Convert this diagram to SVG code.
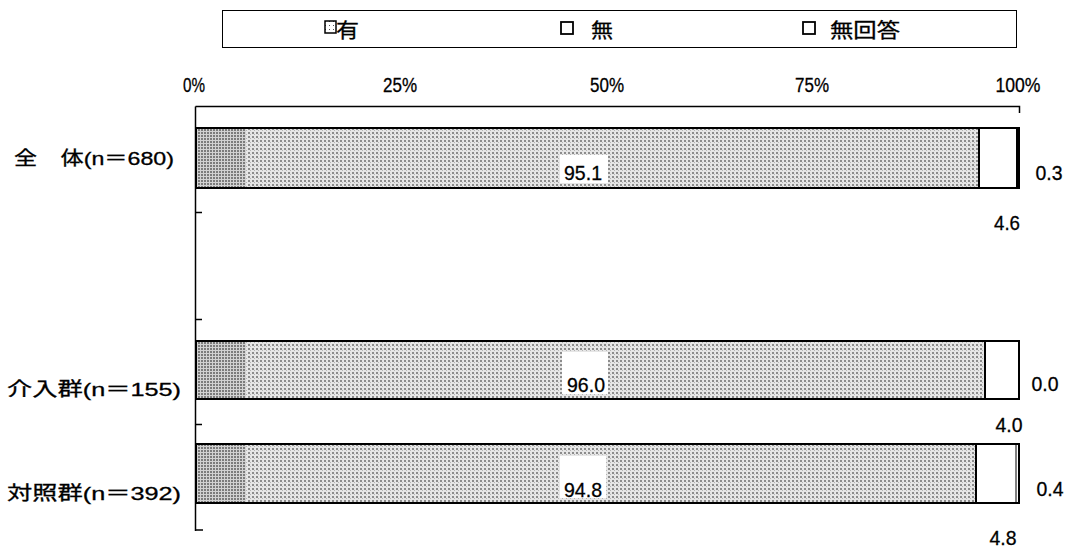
<svg xmlns="http://www.w3.org/2000/svg" width="1071" height="556" viewBox="0 0 1071 556">
<defs>
<pattern id="dots" width="4" height="4" patternUnits="userSpaceOnUse">
<rect width="4" height="4" fill="#e6e6e6"/>
<rect x="0" y="0" width="2" height="2" fill="#8c8c8c"/>
<rect x="2" y="2" width="1" height="1" fill="#b4b4b4"/>
</pattern>
<pattern id="dots2" width="3" height="3" patternUnits="userSpaceOnUse">
<rect width="3" height="3" fill="#d2d2d2"/>
<rect x="0" y="0" width="2" height="2" fill="#7c7c7c"/>
</pattern>
<pattern id="legdot" width="4" height="4" patternUnits="userSpaceOnUse">
<rect width="4" height="4" fill="#fff"/>
<rect x="1" y="1" width="1" height="1" fill="#555"/>
</pattern>
</defs>
<style>
text{font-family:"Liberation Sans","Noto Sans CJK JP",sans-serif;font-size:20px;fill:#000;stroke:#000;stroke-width:0.3}
.cat{font-size:19px}
.ax{text-anchor:middle;font-size:20px}
.val{font-size:21px;text-anchor:middle}
.line{stroke:#000;fill:none}
.seg{stroke:#000;stroke-width:2}
</style>
<rect width="1071" height="556" fill="#fff"/>
<g id="legend">
<rect x="222.5" y="10.5" width="794" height="37" class="line" stroke-width="1"/>
<rect x="325" y="21" width="11" height="12" fill="url(#legdot)" stroke="#000" stroke-width="1.5"/>
<text x="336" y="38" textLength="23" lengthAdjust="spacingAndGlyphs">有</text>
<rect x="561" y="22" width="12" height="12" fill="#fff" stroke="#000" stroke-width="1.8"/>
<text x="591" y="38" textLength="22" lengthAdjust="spacingAndGlyphs">無</text>
<rect x="803" y="22" width="12" height="12" fill="#fff" stroke="#000" stroke-width="1.8"/>
<text x="830" y="38" textLength="70" lengthAdjust="spacingAndGlyphs">無回答</text>
</g>
<g id="axis">
<text class="ax" x="194" y="92" textLength="22" lengthAdjust="spacingAndGlyphs">0%</text>
<text class="ax" x="400" y="92" textLength="34" lengthAdjust="spacingAndGlyphs">25%</text>
<text class="ax" x="607" y="92" textLength="34" lengthAdjust="spacingAndGlyphs">50%</text>
<text class="ax" x="812" y="92" textLength="34" lengthAdjust="spacingAndGlyphs">75%</text>
<text class="ax" x="1018" y="92" textLength="45" lengthAdjust="spacingAndGlyphs">100%</text>
<path class="line" d="M195.5 106.5 H1019.5 V113 M195.5 106.5 V531" stroke-width="1.5"/>
<path class="line" d="M195 212.5 H202 M195 319.5 H202 M195 424.5 H202 M195 530 H203" stroke-width="1.5"/>
</g>
<g id="bar-all">
<rect x="196" y="128" width="50" height="60" fill="url(#dots2)"/>
<rect x="246" y="128" width="733" height="60" fill="url(#dots)"/>
<rect x="196" y="128" width="823" height="60" class="seg" fill="none"/>
<line x1="979" y1="128" x2="979" y2="188" class="seg"/>
<rect x="1016" y="128" width="4" height="60" fill="#000"/>
<rect x="560" y="155" width="48" height="28" fill="#fff"/>
<text class="val" x="583" y="180" textLength="38" lengthAdjust="spacingAndGlyphs">95.1</text>
<text class="cat" x="14" y="165" textLength="160" lengthAdjust="spacingAndGlyphs">全　体(n＝680)</text>
<text class="val" x="1049" y="180" textLength="27" lengthAdjust="spacingAndGlyphs">0.3</text>
<text class="val" x="1007" y="230" textLength="26" lengthAdjust="spacingAndGlyphs">4.6</text>
</g>
<g id="bar-intervention">
<rect x="196" y="341" width="50" height="58" fill="url(#dots2)"/>
<rect x="246" y="341" width="739" height="58" fill="url(#dots)"/>
<rect x="196" y="341" width="823" height="58" class="seg" fill="none"/>
<line x1="985" y1="341" x2="985" y2="399" class="seg"/>
<rect x="562" y="352" width="46" height="42" fill="#fff"/>
<text class="val" x="586" y="392" textLength="38" lengthAdjust="spacingAndGlyphs">96.0</text>
<text class="cat" x="7" y="396" textLength="174" lengthAdjust="spacingAndGlyphs">介入群(n＝155)</text>
<text class="val" x="1045" y="391" textLength="27" lengthAdjust="spacingAndGlyphs">0.0</text>
<text class="val" x="1009" y="432" textLength="27" lengthAdjust="spacingAndGlyphs">4.0</text>
</g>
<g id="bar-control">
<rect x="196" y="444" width="50" height="59" fill="url(#dots2)"/>
<rect x="246" y="444" width="730" height="59" fill="url(#dots)"/>
<rect x="196" y="444" width="823" height="59" class="seg" fill="none"/>
<line x1="976" y1="444" x2="976" y2="503" class="seg"/>
<line x1="1016" y1="444" x2="1016" y2="503" stroke="#000" stroke-width="1"/>
<rect x="560" y="456" width="46" height="42" fill="#fff"/>
<text class="val" x="583" y="497" textLength="38" lengthAdjust="spacingAndGlyphs">94.8</text>
<text class="cat" x="7" y="500" textLength="174" lengthAdjust="spacingAndGlyphs">対照群(n＝392)</text>
<text class="val" x="1050" y="496" textLength="27" lengthAdjust="spacingAndGlyphs">0.4</text>
<text class="val" x="1003" y="545" textLength="27" lengthAdjust="spacingAndGlyphs">4.8</text>
</g>
</svg>
